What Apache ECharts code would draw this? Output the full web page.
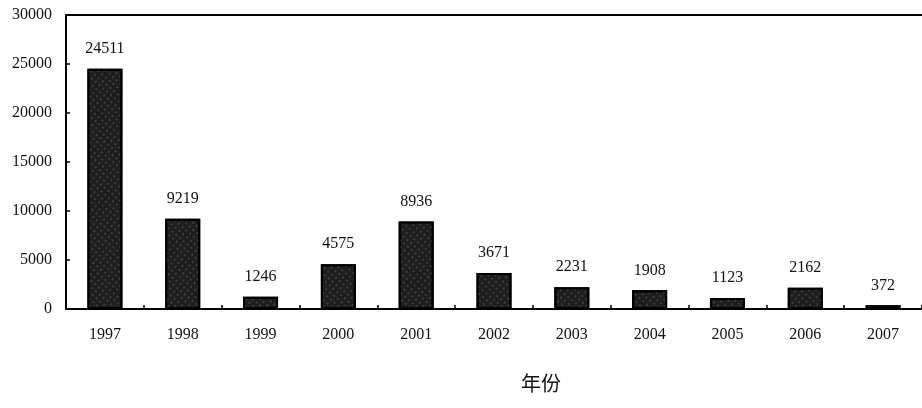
<!DOCTYPE html>
<html><head><meta charset="utf-8">
<script src="https://cdn.jsdelivr.net/npm/echarts@6/dist/echarts.min.js"></script>
<style>html,body{margin:0;padding:0;background:#fff}#c{width:922px;height:408px}</style>
</head><body><div id="c"></div>
<script>
const years = ['1997','1998','1999','2000','2001','2002','2003','2004','2005','2006','2007'];
const values = [24511, 9219, 1246, 4575, 8936, 3671, 2231, 1908, 1123, 2162, 372];
const yTicks = [0, 5000, 10000, 15000, 20000, 25000, 30000];
const axisName = '年份';

const numFont = 'Liberation Serif';
const chart = echarts.init(document.getElementById('c'), null, {renderer:'canvas'});
chart.setOption({
  animation: false,
  backgroundColor: '#fff',
  title: {text: axisName, left: 516, top: 368, textStyle: {fontFamily: 'Noto Sans CJK SC', fontSize: 20, fontWeight: 'normal', color: '#111'}},
  grid: {left: 66, right: -5, top: 15, bottom: 99, containLabel: false},
  xAxis: [{
    type: 'category', data: years, position: 'bottom',
    axisLine: {lineStyle: {color: '#000', width: 2}},
    axisTick: {show: true, inside: true, length: 4, lineStyle: {color: '#000', width: 1.5}},
    axisLabel: {fontFamily: numFont, fontSize: 16, color: '#111', margin: 18}
  }, {
    type: 'category', data: years, position: 'top',
    axisLine: {lineStyle: {color: '#000', width: 2}},
    axisTick: {show: false}, axisLabel: {show: false}
  }],
  yAxis: {
    type: 'value', min: yTicks[0], max: yTicks[yTicks.length-1], interval: 5000,
    axisLine: {show: true, lineStyle: {color: '#000', width: 2}},
    axisTick: {show: true, inside: true, length: 4, lineStyle: {color: '#000', width: 1.5}},
    splitLine: {show: false},
    axisLabel: {fontFamily: numFont, fontSize: 16, color: '#111', margin: 14, formatter: v => String(v)}
  },
  series: [{
    type: 'bar', data: values, barWidth: 35,
    itemStyle: {
      color: '#1e1e1e', borderColor: '#000', borderWidth: 2,
      decal: {symbol: 'circle', symbolSize: 0.6, color: 'rgba(255,255,255,0.6)', dashArrayX: [2, 3], dashArrayY: [2, 3], rotation: 0.7}
    },
    label: {show: true, position: 'top', distance: 12, fontFamily: numFont, fontSize: 16, color: '#111'}
  }]
});
</script></body></html>
